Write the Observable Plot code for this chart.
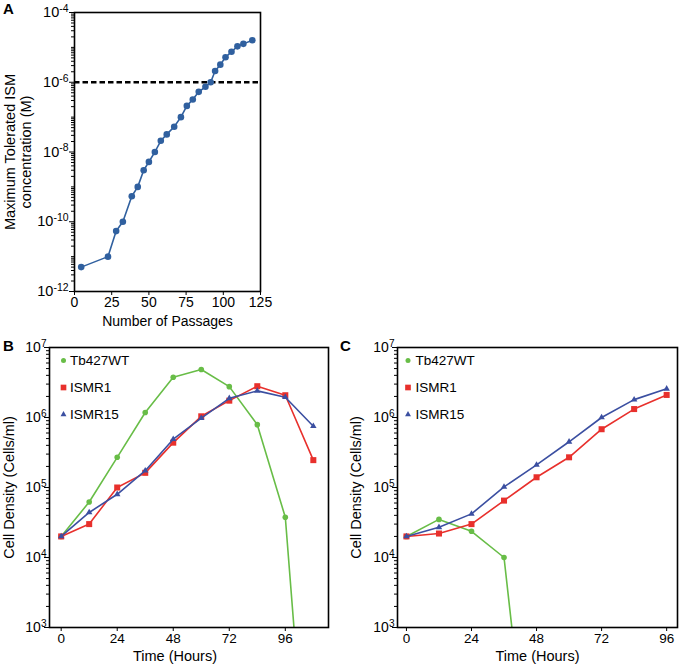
<!DOCTYPE html>
<html>
<head>
<meta charset="utf-8">
<script src="https://cdn.jsdelivr.net/npm/d3@7"></script>
<script src="https://cdn.jsdelivr.net/npm/@observablehq/plot@0.6"></script>
<style>
  body { margin: 0; background: #fff; }
  #wrap { position: relative; width: 679px; height: 665px; background: #fff; }
  .panel { position: absolute; }
</style>
</head>
<body>
<div id="wrap"></div>
<script>
// ---------- Panel A data ----------
const passages = [4.5, 22.5, 28, 32.5, 38.5, 42.5, 46.5, 50, 54, 58, 62, 67, 71.5, 75.5, 79.5, 83.5, 88, 91.5, 94.5, 98, 101.5, 105.5, 109.5, 113.5, 119.5];
const ismConc = [5e-12, 1e-11, 5.4e-11, 1e-10, 5.4e-10, 1e-9, 3e-9, 5.2e-9, 1e-8, 2.1e-8, 3.2e-8, 5.3e-8, 1e-7, 2.1e-7, 3.2e-7, 5.3e-7, 7.4e-7, 1e-6, 2.1e-6, 3.2e-6, 5.2e-6, 7.5e-6, 1.07e-5, 1.26e-5, 1.6e-5];
const thresholdConc = 1e-6;
const passageTicks = [0, 25, 50, 75, 100, 125];
const concTicks = [1e-12, 1e-10, 1e-8, 1e-6, 1e-4];

// ---------- Panels B and C data ----------
const hours = [0, 12, 24, 36, 48, 60, 72, 84, 96, 108];
const seriesNames = ["Tb427WT", "ISMR1", "ISMR15"];
// Panel B
const wtB     = [2e4, 6.2e4, 2.7e5, 1.18e6, 3.76e6, 4.85e6, 2.76e6, 7.9e5, 3.76e4, 0.3];
const ismr1B  = [2e4, 3.0e4, 1.0e5, 1.62e5, 4.37e5, 1.04e6, 1.74e6, 2.8e6, 2.08e6, 2.46e5];
const ismr15B = [2e4, 4.4e4, 8.0e4, 1.74e5, 4.9e5, 9.8e5, 1.88e6, 2.4e6, 1.95e6, 7.5e5];
// Panel C
const wtC     = [2e4, 3.5e4, 2.37e4, 1.0e4, 0.7];
const ismr1C  = [2e4, 2.2e4, 3.0e4, 6.5e4, 1.4e5, 2.7e5, 6.8e5, 1.32e6, 2.1e6];
const ismr15C = [2e4, 2.7e4, 4.2e4, 1.02e5, 2.1e5, 4.5e5, 1.0e6, 1.8e6, 2.57e6];
const hourTicks = [0, 24, 48, 72, 96];
const densityTicks = [1e3, 1e4, 1e5, 1e6, 1e7];

// ---------- styling ----------
const fontFam = "'Liberation Sans', Arial, Helvetica, sans-serif";
const blueA = "#30609f";
const styles = [
  {color: "#68bd47", symbol: "circle", r: 2.8, rl: 2.5},
  {color: "#e8302c", symbol: "square", r: 3.4, rl: 3.2},
  {color: "#3b4fa1", symbol: "triangle", r: 2.4, rl: 2.2}
];
const baseStyle = {fontFamily: fontFam, fontSize: "13.5px", color: "black", background: "white", overflow: "visible"};
const titleSize = 14.5;

function minorLogTicks(kMin, kMax, major) {
  const out = [];
  for (let k = kMin; k < kMax; k++) {
    for (let m = 1; m <= 9; m++) {
      const v = m * Math.pow(10, k);
      if (!major.some(t => Math.abs(Math.log10(t) - Math.log10(v)) < 1e-9)) out.push(v);
    }
  }
  return out;
}

function yAxes(major, minor, pad, fontSize) {
  return [
    Plot.axisY({ticks: minor, tickSize: 3, tickFormat: () => "", label: null}),
    Plot.axisY({ticks: major, tickSize: 5, tickPadding: pad, label: null, fontSize,
      tickFormat: d => "10^" + Math.round(Math.log10(d))})
  ];
}

function superscripts(svg) {
  d3.select(svg).selectAll("text").each(function() {
    const m = /^10\^(-?\d+)$/.exec(this.textContent);
    if (!m) return;
    const sel = d3.select(this);
    sel.text(null);
    sel.append("tspan").text("10");
    sel.append("tspan").attr("dy", "-0.5em").attr("font-size", "0.72em").text(m[1]);
  });
}

function place(el, left, top) {
  const div = document.createElement("div");
  div.className = "panel";
  div.style.left = left + "px";
  div.style.top = top + "px";
  div.appendChild(el);
  document.getElementById("wrap").appendChild(div);
  superscripts(el);
}

// ---------- Panel A ----------
const dataA = passages.map((p, i) => ({p, c: ismConc[i]}));
const panelA = Plot.plot({
  width: 280, height: 330,
  marginLeft: 74, marginRight: 20, marginTop: 12, marginBottom: 39,
  style: baseStyle,
  x: {domain: [0, 125]},
  y: {type: "log", domain: [1e-12, 1e-4]},
  marks: [
    ...yAxes(concTicks, minorLogTicks(-12, -4, concTicks), 1, 14.5),
    Plot.axisX({ticks: passageTicks, tickSize: 4, tickPadding: 2, label: null, fontSize: 14}),
    Plot.ruleY([thresholdConc], {stroke: "black", strokeWidth: 2.6, strokeDasharray: "5.5,3"}),
    Plot.line(dataA, {x: "p", y: "c", stroke: blueA, strokeWidth: 1.6}),
    Plot.dot(dataA, {x: "p", y: "c", fill: blueA, r: 3.3}),
    Plot.frame({stroke: "black", strokeWidth: 1.6}),
    Plot.text(["Maximum Tolerated ISM\nconcentration (M)"], {frameAnchor: "left", rotate: -90, dx: -57, lineHeight: 1.15, fontSize: titleSize, textAnchor: "middle", lineAnchor: "middle"}),
    Plot.text(["Number of Passages"], {frameAnchor: "bottom", dy: 30, fontSize: 14, lineAnchor: "middle"}),
    Plot.text(["A"], {frameAnchor: "top-left", dx: -66, dy: -3, fontWeight: "bold", fontSize: 15, textAnchor: "middle", lineAnchor: "middle"})
  ]
});
place(panelA, 0, 0);

// ---------- Growth panels ----------
function growthPanel(opts) {
  const {series, xDomain, width, marginLeft, marginRight, letter, letterDx, ylabDx, xlabDx, legDx, legTextGap} = opts;
  const marks = [
    ...yAxes(densityTicks, minorLogTicks(3, 7, densityTicks), -2, 14),
    Plot.axisX({ticks: hourTicks, tickSize: 4, tickPadding: 2, label: null, fontSize: 13.5})
  ];
  series.forEach((vals, i) => {
    const d = vals.map((v, j) => ({h: hours[j], v}));
    const s = styles[i];
    marks.push(Plot.line(d, {x: "h", y: "v", stroke: s.color, strokeWidth: 1.6, clip: true}));
    marks.push(Plot.dot(d, {x: "h", y: "v", fill: s.color, symbol: s.symbol, r: s.r, clip: true}));
  });
  seriesNames.forEach((name, i) => {
    const s = styles[i];
    marks.push(Plot.dot([name], {frameAnchor: "top-left", dx: legDx, dy: 13 + i * 27, fill: s.color, symbol: s.symbol, r: s.rl}));
    marks.push(Plot.text([name], {frameAnchor: "top-left", dx: legDx + legTextGap, dy: 13 + i * 27, fontSize: 13.5, textAnchor: "start", lineAnchor: "middle"}));
  });
  marks.push(Plot.frame({stroke: "black", strokeWidth: 1.6}));
  marks.push(Plot.text(["Cell Density (Cells/ml)"], {frameAnchor: "left", rotate: -90, dx: ylabDx, fontSize: titleSize, textAnchor: "middle", lineAnchor: "middle"}));
  marks.push(Plot.text(["Time (Hours)"], {frameAnchor: "bottom", dx: xlabDx, dy: 29, fontSize: titleSize, lineAnchor: "middle"}));
  marks.push(Plot.text([letter], {frameAnchor: "top-left", dx: letterDx, dy: -1, fontWeight: "bold", fontSize: 15, textAnchor: "middle", lineAnchor: "middle"}));
  return Plot.plot({
    width, height: 335,
    marginLeft, marginRight, marginTop: 17, marginBottom: 38,
    style: baseStyle,
    x: {domain: xDomain},
    y: {type: "log", domain: [1e3, 1e7]},
    marks
  });
}

const panelB = growthPanel({
  series: [wtB, ismr1B, ismr15B], xDomain: [-5, 114.5], width: 340,
  marginLeft: 49, marginRight: 12, letter: "B", letterDx: -41,
  ylabDx: -40, xlabDx: -14, legDx: 14, legTextGap: 6.5
});
place(panelB, 0, 330);

const panelC = growthPanel({
  series: [wtC, ismr1C, ismr15C], xDomain: [-3.3, 100], width: 339,
  marginLeft: 57, marginRight: 2, letter: "C", letterDx: -52,
  ylabDx: -41, xlabDx: 0, legDx: 10.5, legTextGap: 7.5
});
place(panelC, 340, 330);
</script>
</body>
</html>
